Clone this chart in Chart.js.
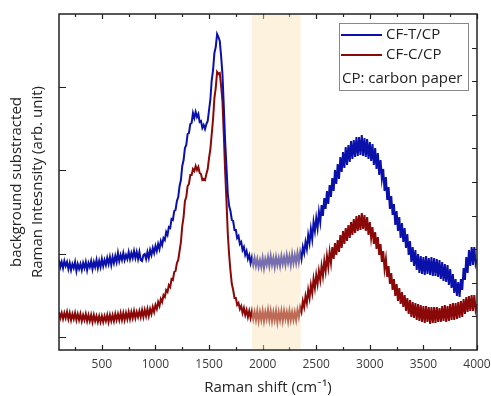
<!DOCTYPE html>
<html><head><meta charset="utf-8">
<script src="https://cdn.jsdelivr.net/npm/chart.js@4/dist/chart.umd.min.js"></script>
<style>html,body{margin:0;padding:0;background:#fff}canvas{display:block}</style>
</head><body>
<canvas id="c" width="491" height="396"></canvas>
<script>
// Raman shift grid (cm^-1), one row per 100 cm^-1
const wavenumbers = [
100,112.5,125,137.5,150,162.5,175,187.5,
200,212.5,225,237.5,250,262.5,275,287.5,
300,312.5,325,337.5,350,362.5,375,387.5,
400,412.5,425,437.5,450,462.5,475,487.5,
500,512.5,525,537.5,550,562.5,575,587.5,
600,612.5,625,637.5,650,662.5,675,687.5,
700,712.5,725,737.5,750,762.5,775,787.5,
800,812.5,825,837.5,850,862.5,875,887.5,
900,912.5,925,937.5,950,962.5,975,987.5,
1000,1012.5,1025,1037.5,1050,1062.5,1075,1087.5,
1100,1112.5,1125,1137.5,1150,1162.5,1175,1187.5,
1200,1212.5,1225,1237.5,1250,1262.5,1275,1287.5,
1300,1312.5,1325,1337.5,1350,1362.5,1375,1387.5,
1400,1412.5,1425,1437.5,1450,1462.5,1475,1487.5,
1500,1512.5,1525,1537.5,1550,1562.5,1575,1587.5,
1600,1612.5,1625,1637.5,1650,1662.5,1675,1687.5,
1700,1712.5,1725,1737.5,1750,1762.5,1775,1787.5,
1800,1812.5,1825,1837.5,1850,1862.5,1875,1887.5,
1900,1912.5,1925,1937.5,1950,1962.5,1975,1987.5,
2000,2012.5,2025,2037.5,2050,2062.5,2075,2087.5,
2100,2112.5,2125,2137.5,2150,2162.5,2175,2187.5,
2200,2212.5,2225,2237.5,2250,2262.5,2275,2287.5,
2300,2312.5,2325,2337.5,2350,2362.5,2375,2387.5,
2400,2412.5,2425,2437.5,2450,2462.5,2475,2487.5,
2500,2512.5,2525,2537.5,2550,2562.5,2575,2587.5,
2600,2612.5,2625,2637.5,2650,2662.5,2675,2687.5,
2700,2712.5,2725,2737.5,2750,2762.5,2775,2787.5,
2800,2812.5,2825,2837.5,2850,2862.5,2875,2887.5,
2900,2912.5,2925,2937.5,2950,2962.5,2975,2987.5,
3000,3012.5,3025,3037.5,3050,3062.5,3075,3087.5,
3100,3112.5,3125,3137.5,3150,3162.5,3175,3187.5,
3200,3212.5,3225,3237.5,3250,3262.5,3275,3287.5,
3300,3312.5,3325,3337.5,3350,3362.5,3375,3387.5,
3400,3412.5,3425,3437.5,3450,3462.5,3475,3487.5,
3500,3512.5,3525,3537.5,3550,3562.5,3575,3587.5,
3600,3612.5,3625,3637.5,3650,3662.5,3675,3687.5,
3700,3712.5,3725,3737.5,3750,3762.5,3775,3787.5,
3800,3812.5,3825,3837.5,3850,3862.5,3875,3887.5,
3900,3912.5,3925,3937.5,3950,3962.5,3975,3987.5,
4000];

// CF-T/CP intensity (arb. unit)
const cfT = [
77,70,75,69,76,71,75,68,
74,67,73,69,75,66,73,68,
73,67,74,69,75,67,74,70,
76,68,75,70,77,69,76,70,
78,71,77,72,79,73,80,72,
80,74,81,75,84,76,82,77,
84,77,82,78,85,78,84,79,
86,79,85,78,85,77,76,82,
83,78,85,79,87,82,89,84,
91,86,93,88,96,92,99,97,
105,102,110,109,118,117,126,127,
136,140,151,157,171,177,189,192,
203,204,213,214,224,219,225,220,
223,215,216,209,212,208,213,216,
227,238,257,267,284,290,303,300,
296,281,263,231,196,170,143,131,
126,117,116,107,107,99,101,93,
95,87,90,82,86,78,82,74,
80,72,79,71,78,70,77,70,
79,69,78,72,80,71,81,72,
79,70,80,72,79,71,81,73,
80,72,82,74,81,72,83,74,
82,74,84,75,85,78,90,84,
95,88,102,94,108,98,115,106,
119,109,125,115,132,121,139,128,
146,133,152,140,159,146,167,153,
173,158,180,165,185,169,190,172,
192,175,196,178,197,180,200,181,
200,182,202,181,199,180,198,178,
195,176,193,172,189,168,184,162,
177,158,168,146,160,137,150,128,
141,122,133,112,126,106,120,99,
114,95,109,89,103,82,96,75,
90,71,87,67,83,64,81,63,
80,62,81,63,79,62,80,61,
79,61,78,60,77,58,75,56,
73,55,72,52,68,49,63,44,
58,41,55,40,58,47,69,57,
80,64,87,71,90,72,90,73,
78];

// CF-C/CP intensity (arb. unit)
const cfC = [
25,19,24,18,24,19,25,18,
24,17,23,18,24,17,23,17,
23,16,22,17,23,16,22,16,
22,15,22,16,21,15,21,15,
21,15,21,16,22,15,22,16,
22,16,23,17,23,17,24,17,
24,17,24,18,25,18,25,19,
26,19,25,20,26,20,27,20,
27,21,28,21,28,23,30,25,
32,28,35,31,38,35,42,40,
47,45,52,50,58,57,65,66,
74,77,86,95,111,120,136,140,
151,153,162,162,168,166,171,167,
170,164,163,157,158,157,163,168,
179,188,203,218,239,249,265,263,
264,251,236,203,166,136,103,82,
66,53,47,39,39,32,34,28,
31,24,29,22,27,20,26,19,
26,18,25,17,26,16,25,17,
26,16,25,18,27,17,26,16,
25,17,26,15,25,17,26,16,
26,18,25,16,26,17,25,17,
25,17,27,20,30,25,36,30,
41,34,47,39,52,44,58,49,
62,53,66,57,71,61,76,66,
81,70,85,74,90,78,94,82,
97,85,102,89,106,93,109,96,
112,99,115,102,118,104,121,106,
122,107,124,108,122,106,120,102,
115,99,110,93,105,88,100,82,
93,75,86,68,78,60,71,53,
64,47,58,41,53,36,49,33,
45,30,42,26,39,23,37,20,
35,19,34,17,33,16,32,15,
31,14,31,15,30,13,30,14,
30,14,30,15,29,15,31,16,
32,15,31,16,33,17,34,17,
34,18,35,19,36,20,38,23,
40,25,41,26,42,26,42,27,
33];

const xTickValues = [500,1000,1500,2000,2500,3000,3500,4000];
const xMinorTicks = [250,750,1250,1750,2250,2750,3250,3750];
const yLeftTicks = [0,83.4,166.8,250.2];
const yRightTicks = [1,2,3,4,5,6,7,8,9];
const highlightRange = [1900,2355];
const seriesNames = ['CF-T/CP','CF-C/CP'];
const seriesColors = ['#0a10aa','#8a0808'];
const legendNote = 'CP: carbon paper';
const xTitle = 'Raman shift (cm\u207B\u00B9)';
const yTitle = ['background substracted','Raman Intesnsity (arb. unit)'];

const FONT = '"Open Sans", Lato, sans-serif';

const toPts = ys => wavenumbers.map((x,i)=>({x:x,y:ys[i]}));

const deco = {
  id:'deco',
  beforeDatasetsDraw(chart){
    const {ctx, chartArea:a, scales} = chart;
    ctx.save();
    ctx.strokeStyle = '#222';
    ctx.lineWidth = 1.2;
    ctx.beginPath();
    const sx = scales.x;
    xTickValues.forEach(v=>{
      const p = Math.round(sx.getPixelForValue(v))+0.5;
      ctx.moveTo(p,a.bottom); ctx.lineTo(p,a.bottom-5);
      ctx.moveTo(p,a.top); ctx.lineTo(p,a.top+5);
    });
    xMinorTicks.forEach(v=>{
      const p = Math.round(sx.getPixelForValue(v))+0.5;
      ctx.moveTo(p,a.bottom); ctx.lineTo(p,a.bottom-3);
      ctx.moveTo(p,a.top); ctx.lineTo(p,a.top+3);
    });
    yLeftTicks.forEach(v=>{
      const p = Math.round(scales.y.getPixelForValue(v))+0.5;
      ctx.moveTo(a.left,p); ctx.lineTo(a.left+7,p);
    });
    yRightTicks.forEach(v=>{
      const p = Math.round(scales.y2.getPixelForValue(v))+0.5;
      ctx.moveTo(a.right,p); ctx.lineTo(a.right-5,p);
    });
    ctx.stroke();
    ctx.restore();
  },
  afterDatasetsDraw(chart){
    const {ctx, chartArea:a, scales} = chart;
    ctx.save();
    const x0 = scales.x.getPixelForValue(highlightRange[0]);
    const x1 = scales.x.getPixelForValue(highlightRange[1]);
    ctx.fillStyle = 'rgba(250,226,182,0.45)';
    ctx.fillRect(x0, a.top+1, x1-x0, a.bottom-a.top-2);
    ctx.strokeStyle = '#222';
    ctx.lineWidth = 1.5;
    ctx.strokeRect(a.left, a.top, a.right-a.left, a.bottom-a.top);
    const lx = 339, ly = 23, lw = 129, lh = 67;
    ctx.fillStyle = '#fff';
    ctx.fillRect(lx, ly, lw, lh);
    ctx.strokeStyle = '#888';
    ctx.lineWidth = 1;
    ctx.strokeRect(lx+0.5, ly+0.5, lw, lh);
    ctx.font = '15px ' + FONT;
    ctx.textBaseline = 'middle';
    ctx.textAlign = 'left';
    const rows = [35,55];
    seriesNames.forEach((n,i)=>{
      ctx.strokeStyle = seriesColors[i];
      ctx.lineWidth = 2;
      ctx.beginPath();
      ctx.moveTo(341, rows[i]); ctx.lineTo(382, rows[i]);
      ctx.stroke();
      ctx.fillStyle = '#222';
      ctx.fillText(n, 386, rows[i]);
    });
    ctx.fillText(legendNote, 342, 79);
    ctx.font = '15px ' + FONT;
    ctx.fillStyle = '#222';
    ctx.textAlign = 'center';
    ctx.fillText(xTitle, (a.left+a.right)/2, 388);
    const cy = (a.top+a.bottom)/2;
    [17,38].forEach((xx,i)=>{
      ctx.save();
      ctx.translate(xx, cy);
      ctx.rotate(-Math.PI/2);
      ctx.fillText(yTitle[i], 0, 0);
      ctx.restore();
    });
    ctx.restore();
  }
};

new Chart(document.getElementById('c'), {
  type:'line',
  data:{
    datasets:[
      {label:seriesNames[0], data:toPts(cfT), borderColor:seriesColors[0], borderWidth:2, pointRadius:0, tension:0, fill:false},
      {label:seriesNames[1], data:toPts(cfC), borderColor:seriesColors[1], borderWidth:2, pointRadius:0, tension:0, fill:false}
    ]
  },
  options:{
    responsive:false,
    animation:false,
    devicePixelRatio:1,
    layout:{padding:{top:14,left:0,right:0,bottom:0}},
    plugins:{legend:{display:false}, tooltip:{enabled:false}},
    scales:{
      x:{type:'linear', min:100, max:4000,
         afterBuildTicks:s=>{s.ticks = xTickValues.map(v=>({value:v}));},
         afterFit:s=>{s.height = 46; s.paddingLeft = 0; s.paddingRight = 0;},
         ticks:{font:{family:FONT,size:12}, color:'#3a3a3a', padding:7, maxRotation:0, autoSkip:false, callback:v=>String(v)},
         grid:{display:false, drawTicks:false}, border:{display:false}},
      y:{position:'left', min:-13, max:323,
         afterBuildTicks:s=>{s.ticks = yLeftTicks.map(v=>({value:v}));},
         afterFit:s=>{s.width = 59;},
         ticks:{display:false}, grid:{display:false, drawTicks:false}, border:{display:false}},
      y2:{position:'right', min:0, max:10,
         afterBuildTicks:s=>{s.ticks = yRightTicks.map(v=>({value:v}));},
         afterFit:s=>{s.width = 14;},
         ticks:{display:false}, grid:{display:false, drawTicks:false}, border:{display:false}}
    }
  },
  plugins:[deco]
});
</script>
</body></html>
